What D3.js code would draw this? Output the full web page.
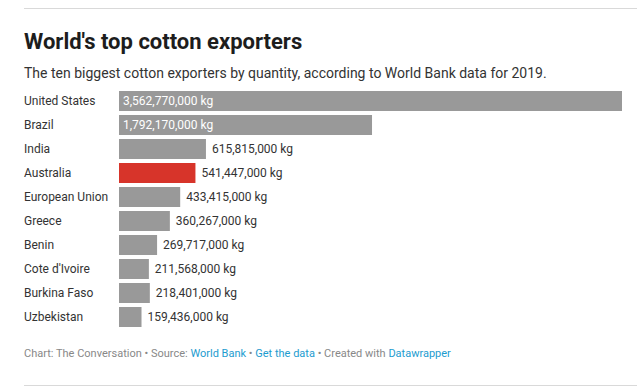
<!DOCTYPE html>
<html>
<head>
<meta charset="utf-8">
<script src="https://cdn.jsdelivr.net/npm/d3@7"></script>
<style>
  body { margin: 0; background: #fff; font-family: Roboto, "Noto Sans", sans-serif; }
  svg text { font-family: Roboto, "Noto Sans", sans-serif; }
</style>
</head>
<body>
<div id="chart"></div>
<script>
  // Data
  var countries = ["United States", "Brazil", "India", "Australia", "European Union",
    "Greece", "Benin", "Cote d'Ivoire", "Burkina Faso", "Uzbekistan"];
  var exportsKg = [3562770000, 1792170000, 615815000, 541447000, 433415000,
    360267000, 269717000, 211568000, 218401000, 159436000];
  var highlighted = ["Australia"];

  var width = 637, height = 390;
  var svg = d3.select("#chart").append("svg")
    .attr("width", width)
    .attr("height", height);

  // top and bottom rules
  svg.append("line").attr("x1", 24).attr("x2", width).attr("y1", 8.5).attr("y2", 8.5)
    .attr("stroke", "#d9d9d9");
  svg.append("line").attr("x1", 24).attr("x2", width).attr("y1", 385.5).attr("y2", 385.5)
    .attr("stroke", "#d9d9d9");

  // Title and subtitle
  svg.append("text")
    .attr("x", 24).attr("y", 49)
    .attr("font-size", 22).attr("font-weight", "bold").attr("fill", "#1d1d1d")
    .text("World's top cotton exporters");

  svg.append("text")
    .attr("x", 24).attr("y", 78)
    .attr("font-size", 14).attr("fill", "#333")
    .text("The ten biggest cotton exporters by quantity, according to World Bank data for 2019.");

  var scenes = countries.map(function(c, i) {
    return { country: c, value: exportsKg[i] };
  });

  var x = d3.scaleLinear()
    .domain([0, d3.max(exportsKg)])
    .range([119, 622]);

  var y = d3.scaleBand()
    .domain(countries)
    .range([89, 329])
    .paddingInner(4 / 24)
    .paddingOuter(2 / 24);

  var fmt = d3.format(",");
  var inside = function(d) { return x(d.value) - x(0) > 160; };

  var row = svg.selectAll(".row")
    .data(scenes)
    .enter().append("g")
    .attr("class", "row");

  row.append("text")
    .attr("x", 24)
    .attr("y", function(d) { return y(d.country) + y.bandwidth() / 2; })
    .attr("dy", "0.35em")
    .attr("font-size", 12)
    .attr("fill", "#333")
    .text(function(d) { return d.country; });

  row.append("rect")
    .attr("x", x(0))
    .attr("y", function(d) { return y(d.country); })
    .attr("width", function(d) { return x(d.value) - x(0); })
    .attr("height", y.bandwidth())
    .attr("fill", function(d) { return highlighted.indexOf(d.country) >= 0 ? "#d7342a" : "#999999"; });

  // value labels: inside if bar is long, outside otherwise
  row.append("text")
    .attr("x", function(d) { return inside(d) ? x(0) + 4 : x(d.value) + 6; })
    .attr("y", function(d) { return y(d.country) + y.bandwidth() / 2; })
    .attr("dy", "0.35em")
    .attr("font-size", 12)
    .attr("fill", function(d) { return inside(d) ? "#fff" : "#333"; })
    .text(function(d) { return fmt(d.value) + " kg"; });

  // Footer
  var foot = svg.append("text")
    .attr("x", 24).attr("y", 357)
    .attr("font-size", 11).attr("fill", "#888");
  foot.append("tspan").text("Chart: The Conversation \u2022 Source: ");
  foot.append("tspan").attr("fill", "#1d9ccf").text("World Bank");
  foot.append("tspan").text(" \u2022 ");
  foot.append("tspan").attr("fill", "#1d9ccf").text("Get the data");
  foot.append("tspan").text(" \u2022 Created with ");
  foot.append("tspan").attr("fill", "#1d9ccf").text("Datawrapper");
</script>
</body>
</html>
